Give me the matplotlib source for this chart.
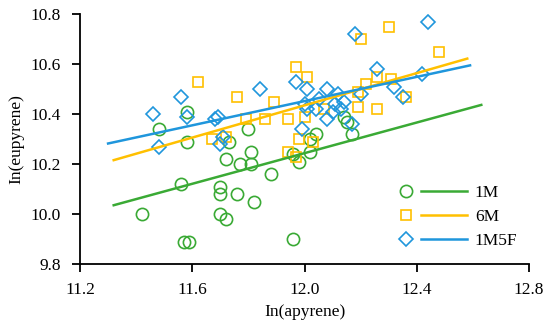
import matplotlib
matplotlib.use("Agg")
import matplotlib.pyplot as plt
import numpy as np
from matplotlib.legend_handler import HandlerBase
from matplotlib.lines import Line2D

# ---- data ----
x_1M = [11.42, 11.56, 11.57, 11.59, 11.70, 11.70, 11.76, 11.70, 11.72, 11.82,
        11.72, 11.77, 11.81, 11.88, 11.81, 11.96, 11.98, 11.96, 11.58, 11.80,
        11.73, 11.58, 11.48, 12.04, 12.02, 12.02, 12.14, 12.15, 12.17]
y_1M = [10.00, 10.12, 9.89, 9.89, 10.11, 10.08, 10.08, 10.00, 9.98, 10.05,
        10.22, 10.20, 10.20, 10.16, 10.25, 9.90, 10.21, 10.24, 10.29, 10.34,
        10.29, 10.41, 10.34, 10.32, 10.30, 10.25, 10.39, 10.37, 10.32]

x_6M = [11.62, 11.76, 11.89, 11.97, 12.01, 11.79, 11.86, 11.94, 12.00, 12.07,
        11.67, 11.72, 11.94, 11.97, 11.98, 12.03, 12.30, 12.20, 12.48, 12.26,
        12.31, 12.22, 12.19, 12.36, 12.19, 12.26]
y_6M = [10.53, 10.47, 10.45, 10.59, 10.55, 10.38, 10.38, 10.38, 10.39, 10.42,
        10.30, 10.31, 10.25, 10.23, 10.30, 10.29, 10.75, 10.70, 10.65, 10.55,
        10.54, 10.52, 10.49, 10.47, 10.43, 10.42]

x_1M5F = [11.46, 11.56, 11.58, 11.48, 11.68, 11.69, 11.70, 11.71, 11.84, 11.97,
          12.01, 11.99, 12.08, 12.12, 12.05, 12.14, 12.01, 12.11, 12.04, 12.13,
          12.08, 12.10, 12.17, 12.18, 12.44, 12.26, 12.32, 12.35, 12.42, 12.20,
          12.00]
y_1M5F = [10.40, 10.47, 10.39, 10.27, 10.38, 10.39, 10.28, 10.31, 10.50, 10.53,
          10.50, 10.34, 10.50, 10.48, 10.46, 10.45, 10.42, 10.44, 10.42, 10.42,
          10.38, 10.41, 10.36, 10.72, 10.77, 10.58, 10.51, 10.47, 10.56, 10.48,
          10.44]

# linear trend lines: intercept, slope, x-range
labels = ["1M", "6M", "1M5F"]
trend_intercept = [6.572, 6.571, 7.548]
trend_slope = [0.306, 0.322, 0.242]
trend_xmin = [11.32, 11.32, 11.30]
trend_xmax = [12.63, 12.58, 12.59]

x_ticks = [11.2, 11.6, 12.0, 12.4, 12.8]
y_ticks = [9.8, 10.0, 10.2, 10.4, 10.6, 10.8]

colors = ["#3aaa35", "#ffc000", "#1f96dc"]
markers = ["o", "s", "D"]
msizes = [8.8, 7.8, 6.8]

plt.rcParams['font.family'] = ['Liberation Serif', 'DejaVu Serif']

fig = plt.figure(figsize=(5.5, 3.32), dpi=100)
ax = fig.add_axes([0.1455, 0.204, 0.8163, 0.7538])

xs = [x_1M, x_6M, x_1M5F]
ys = [y_1M, y_6M, y_1M5F]
handles = []
for i in range(3):
    ax.plot(xs[i], ys[i], linestyle='none', marker=markers[i], markersize=msizes[i],
            mfc='none', mec=colors[i], mew=1.2, zorder=3)
for i in range(3):
    tx = np.array([trend_xmin[i], trend_xmax[i]])
    ax.plot(tx, trend_intercept[i] + trend_slope[i] * tx, color=colors[i], lw=1.8, zorder=4)
    handles.append(Line2D([], [], color=colors[i], marker=markers[i], markersize=msizes[i],
                          mfc='none', mec=colors[i], mew=1.2, lw=1.8))


class MarkerThenLine(HandlerBase):
    def create_artists(self, legend, orig_handle, xdescent, ydescent, width, height,
                       fontsize, trans):
        y = height / 2 - ydescent
        m = Line2D([-xdescent + 0.1 * width], [y], linestyle='none',
                   marker=orig_handle.get_marker(), markersize=orig_handle.get_markersize(),
                   mfc='none', mec=orig_handle.get_color(), mew=1.2)
        l = Line2D([-xdescent + 0.32 * width, -xdescent + width], [y, y],
                   color=orig_handle.get_color(), lw=1.8)
        m.set_transform(trans)
        l.set_transform(trans)
        return [m, l]


leg = ax.legend(handles, labels, handler_map={Line2D: MarkerThenLine()},
                loc='center', bbox_to_anchor=(0.843, 0.19), frameon=False,
                fontsize=12.5, handlelength=3.9, handletextpad=0.45, labelspacing=0.45)

ax.set_xlim(11.2, 12.8)
ax.set_ylim(9.8, 10.8)
ax.set_xticks(x_ticks)
ax.set_xticklabels([f"{v:.1f}" for v in x_ticks])
ax.set_yticks(y_ticks)
ax.set_yticklabels([f"{v:.1f}" for v in y_ticks])
for s in ['top', 'right']:
    ax.spines[s].set_visible(False)
for s in ['left', 'bottom']:
    ax.spines[s].set_linewidth(1.3)
    ax.spines[s].set_color('black')
ax.tick_params(axis='both', direction='out', length=6, width=1.3, labelsize=12.5)
ax.tick_params(axis='x', pad=7)
ax.tick_params(axis='y', pad=8)
ax.set_xlabel("In(apyrene)", fontsize=12.5, labelpad=4)
ax.set_ylabel("In(eupyrene)", fontsize=12.5, labelpad=4)

fig.savefig("out.png", dpi=100)
